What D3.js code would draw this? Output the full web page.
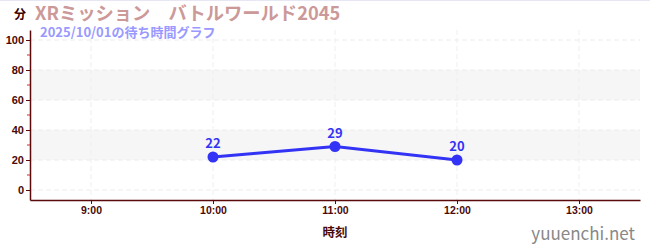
<!DOCTYPE html>
<html>
<head>
<meta charset="utf-8">
<script src="https://cdn.jsdelivr.net/npm/d3@7"></script>
<style>
  body { margin: 0; background: #fff; }
  svg { display: block; font-family: "Noto Sans CJK JP", "Noto Sans", sans-serif; }
</style>
</head>
<body>
<script>
var times = ["10:00", "11:00", "12:00"];
var waits = [22, 29, 20];
var xTicks = ["9:00", "10:00", "11:00", "12:00", "13:00"];
var yTicks = [0, 20, 40, 60, 80, 100];
var bands = [[20, 40], [60, 80]];

var width = 650, height = 250;
var axisColor = "#5a0a0a";

function toHour(s) {
    var p = s.split(":");
    return +p[0] + (+p[1]) / 60;
}

var svg = d3.select("body").append("svg")
    .attr("width", width)
    .attr("height", height);

// faint top border
svg.append("line")
    .attr("x1", 0).attr("x2", width)
    .attr("y1", 0.5).attr("y2", 0.5)
    .style("stroke", "#e6e6f5");

var x = d3.scaleLinear().domain([8.5, 13.5]).range([30, 640]);
var y = d3.scaleLinear().domain([-20 / 3, 320 / 3]).range([200, 30]);

// shaded bands
svg.append("g").selectAll("rect")
    .data(bands)
  .enter().append("rect")
    .attr("x", 30)
    .attr("width", 610)
    .attr("y", function(d) { return y(d[1]); })
    .attr("height", function(d) { return y(d[0]) - y(d[1]); })
    .style("fill", "#f6f6f6");

// grid
svg.append("g").selectAll("line")
    .data(yTicks)
  .enter().append("line")
    .attr("x1", 30).attr("x2", 640)
    .attr("y1", function(d) { return y(d); })
    .attr("y2", function(d) { return y(d); })
    .style("stroke", "#ececec")
    .style("stroke-dasharray", "5,3");

svg.append("g").selectAll("line")
    .data(xTicks)
  .enter().append("line")
    .attr("x1", function(d) { return x(toHour(d)); })
    .attr("x2", function(d) { return x(toHour(d)); })
    .attr("y1", 30).attr("y2", 200)
    .style("stroke", "#efefef")
    .style("stroke-dasharray", "5,3");

// y axis
var yAxis = svg.append("g")
    .attr("transform", "translate(30,0)")
    .call(d3.axisLeft(y).tickValues(yTicks).tickSize(4).tickSizeOuter(0).tickPadding(2));
yAxis.select(".domain").style("stroke", axisColor).style("stroke-width", 1.5);
yAxis.selectAll(".tick line").style("stroke", axisColor);
yAxis.selectAll("text")
    .style("fill", "#4a0808")
    .style("font-size", "11px")
    .style("font-weight", "bold");

// minor red ticks
svg.append("g").selectAll("line")
    .data([10, 30, 50, 70, 90])
  .enter().append("line")
    .attr("x1", 27).attr("x2", 30)
    .attr("y1", function(d) { return y(d); })
    .attr("y2", function(d) { return y(d); })
    .style("stroke", "#dd2222");

// x axis
var xAxis = svg.append("g")
    .attr("transform", "translate(0,200)")
    .call(d3.axisBottom(x)
        .tickValues(xTicks.map(toHour))
        .tickFormat(function(d, i) { return xTicks[i]; })
        .tickSize(4).tickSizeOuter(0).tickPadding(3));
xAxis.select(".domain").style("stroke", axisColor).style("stroke-width", 1.5);
xAxis.selectAll(".tick line").style("stroke", axisColor);
xAxis.selectAll("text")
    .style("fill", "#4a0808")
    .style("font-size", "10.5px")
    .style("font-weight", "bold");

// line + points
var pts = times.map(function(t, i) { return {t: toHour(t), v: waits[i]}; });

svg.append("path")
    .datum(pts)
    .attr("d", d3.line().x(function(d) { return x(d.t); }).y(function(d) { return y(d.v); }))
    .style("fill", "none")
    .style("stroke", "#3333f5")
    .style("stroke-width", 3);

svg.append("g").selectAll("circle")
    .data(pts)
  .enter().append("circle")
    .attr("cx", function(d) { return x(d.t); })
    .attr("cy", function(d) { return y(d.v); })
    .attr("r", 5.5)
    .style("fill", "#3333f5");

svg.append("g").selectAll("text")
    .data(pts)
  .enter().append("text")
    .attr("x", function(d) { return x(d.t); })
    .attr("y", function(d) { return y(d.v) - 9; })
    .attr("text-anchor", "middle")
    .style("fill", "#3333f5")
    .style("font-size", "13px")
    .style("font-weight", "bold")
    .text(function(d) { return d.v; });

// titles
svg.append("text")
    .attr("x", 14).attr("y", 19)
    .style("font-size", "12px").style("font-weight", "bold")
    .style("fill", "#3a0000")
    .text("分");

svg.append("text")
    .attr("x", 35).attr("y", 20)
    .style("font-size", "18.3px").style("font-weight", "bold")
    .style("fill", "#cc9999")
    .text("XRミッション　バトルワールド2045");

svg.append("text")
    .attr("x", 40).attr("y", 36.5)
    .style("font-size", "13px").style("font-weight", "bold")
    .style("fill", "#9999ff")
    .text("2025/10/01の待ち時間グラフ");

svg.append("text")
    .attr("x", 335).attr("y", 237)
    .attr("text-anchor", "middle")
    .style("font-size", "12.5px").style("font-weight", "bold")
    .style("fill", "#4a0808")
    .text("時刻");

svg.append("text")
    .attr("x", 635).attr("y", 240)
    .attr("text-anchor", "end")
    .style("font-size", "17px")
    .style("fill", "#888")
    .text("yuuenchi.net");
</script>
</body>
</html>
